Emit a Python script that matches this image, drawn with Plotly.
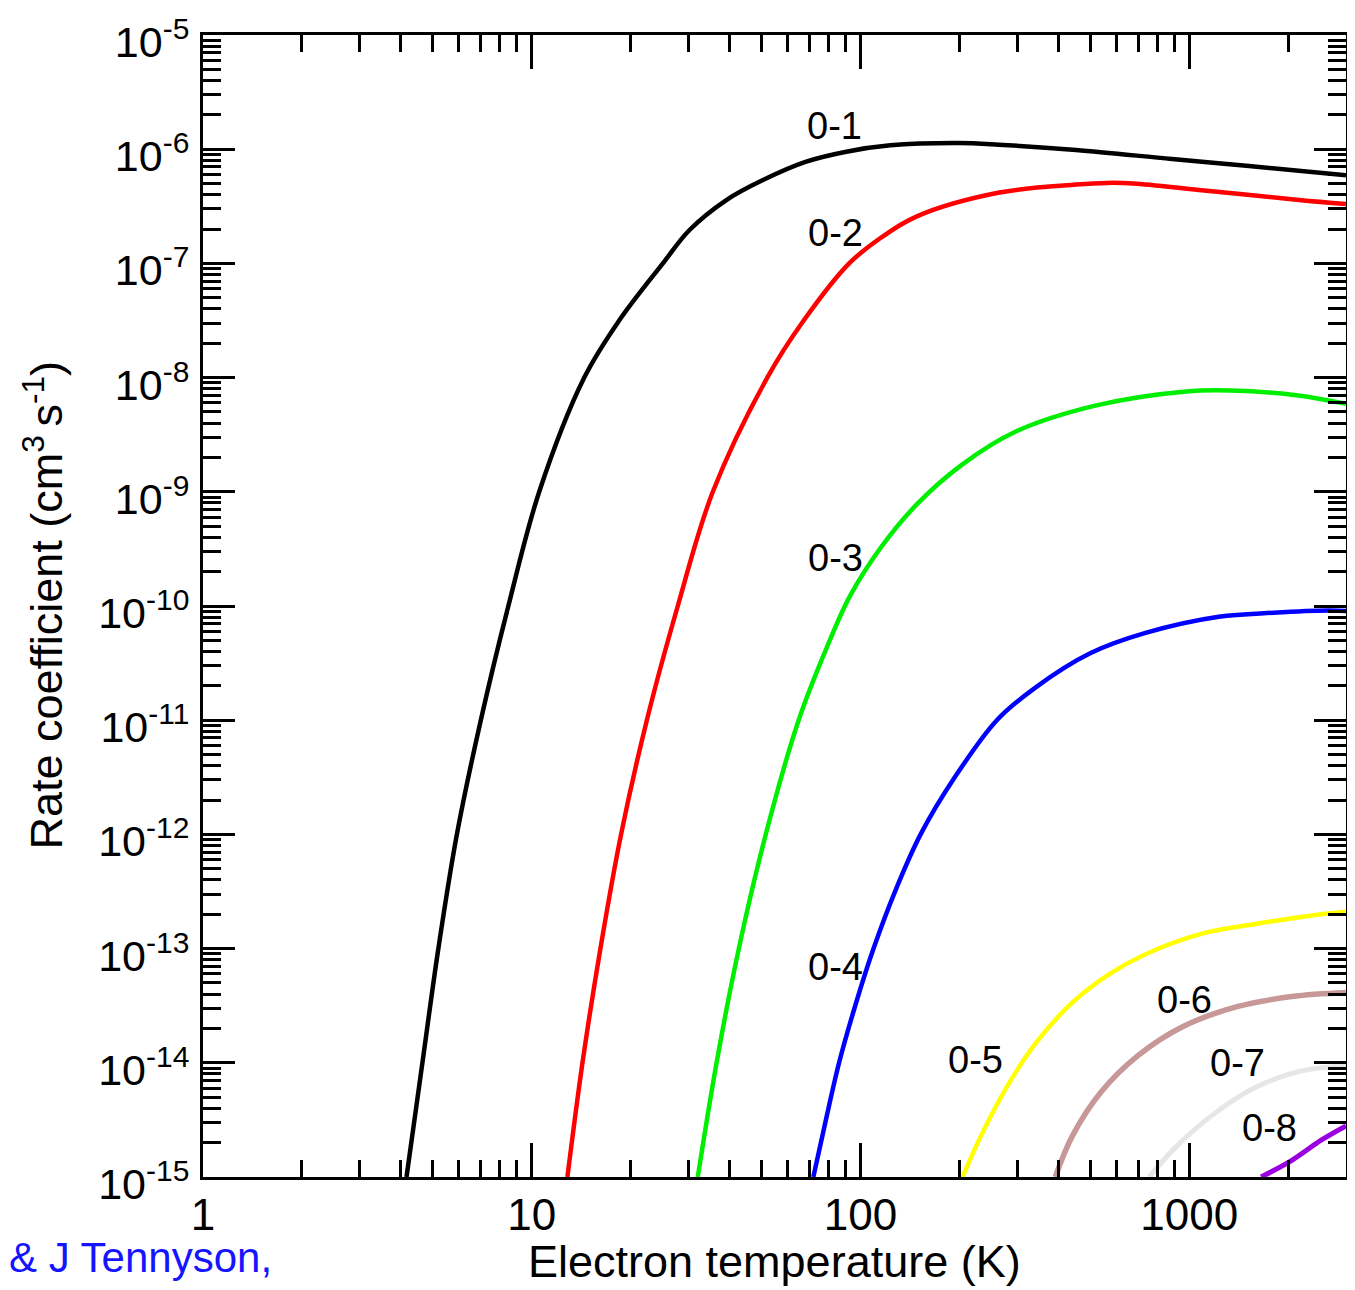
import numpy as np
import plotly.graph_objects as go

# ---------------- data ----------------
T01 = [4.16, 4.65, 5.20, 5.92, 7.00, 8.49, 10.54, 14.45, 18.45, 25.06, 30.2, 39.1, 50.5, 68.4, 90.6, 123.3, 198.6, 263, 453, 887, 1521, 3000]
K01 = [1e-15, 1e-14, 1e-13, 1e-12, 1e-11, 1e-10, 1e-9, 1e-8, 3.16e-8, 1e-7, 1.96e-7, 3.59e-7, 5.37e-7, 7.78e-7, 9.51e-7, 1.081e-6, 1.132e-6, 1.096e-6, 9.84e-7, 8.20e-7, 7.13e-7, 5.92e-7]

T02 = [12.84, 14.27, 16.18, 18.70, 22.40, 27.82, 35.56, 52.07, 67.2, 92.4, 114.8, 147.9, 264.6, 452.9, 562.3, 676.1, 1071.5, 2158, 3000]
K02 = [1e-15, 1e-14, 1e-13, 1e-12, 1e-11, 1e-10, 1e-9, 1e-8, 3.16e-8, 1e-7, 1.66e-7, 2.57e-7, 4.17e-7, 4.90e-7, 5.07e-7, 5.01e-7, 4.40e-7, 3.59e-7, 3.31e-7]

T03 = [32.0, 36.5, 42.66, 51.52, 64.86, 79.5, 92.9, 115.8, 148.9, 203.8, 297, 522, 979, 1340, 2145, 3000]
K03 = [1e-15, 1e-14, 1e-13, 1e-12, 1e-11, 4.52e-11, 1.22e-10, 3.30e-10, 7.83e-10, 1.73e-9, 3.37e-9, 5.71e-9, 7.57e-9, 7.71e-9, 6.98e-9, 5.89e-9]

T04 = [71.9, 78.5, 86.1, 96.4, 109.6, 127.4, 152.4, 193.6, 260.0, 341.4, 501.6, 736.6, 1230, 1806, 2655, 3000]
K04 = [1e-15, 3.16e-15, 1e-14, 3.16e-14, 1e-13, 3.16e-13, 1e-12, 3.16e-12, 1e-11, 1.94e-11, 3.87e-11, 5.81e-11, 8.05e-11, 8.73e-11, 9.12e-11, 9.04e-11]

T05 = [204.5, 232.4, 278, 341.4, 441, 570, 736.5, 1081, 1589, 2333, 3000]
K05 = [1e-15, 2.28e-15, 6.07e-15, 1.49e-14, 3.36e-14, 5.94e-14, 8.93e-14, 1.34e-13, 1.64e-13, 1.94e-13, 2.10e-13]

T06 = [391.5, 441, 541, 699.8, 951.5, 1398, 2053, 3000]
K06 = [1e-15, 2.28e-15, 5.6e-15, 1.16e-14, 2.06e-14, 3.10e-14, 3.80e-14, 4.12e-14]

T07 = [755.8, 904, 1168, 1589, 2161, 3000]
K07 = [1e-15, 1.79e-15, 3.43e-15, 6.07e-15, 8.41e-15, 9.49e-15]

T08 = [1655, 2053, 2521, 3000]
K08 = [1e-15, 1.40e-15, 2.10e-15, 2.80e-15]

series_names = ["0-1", "0-2", "0-3", "0-4", "0-5", "0-6", "0-7", "0-8"]
series_T = [T01, T02, T03, T04, T05, T06, T07, T08]
series_K = [K01, K02, K03, K04, K05, K06, K07, K08]
series_colors = ["#000000", "#ff0000", "#00ee00", "#0000ff", "#ffff00", "#c89898", "#e6e6e6", "#9b00e0"]
series_widths = [4.5, 4.5, 4.5, 4.5, 4.5, 5.5, 5, 5]

# curve label positions (T, k)
label_T = [83.4, 84, 84, 84, 224, 966, 1399, 1751]
label_K = [1.6e-6, 1.85e-7, 2.63e-10, 6.9e-14, 1.06e-14, 3.55e-14, 9.95e-15, 2.69e-15]

x_tickvals = [1, 10, 100, 1000]
x_ticktext = ["1", "10", "100", "1000"]
y_exponents = list(range(-15, -4))
y_tickvals = [10.0 ** e for e in y_exponents]
y_ticktext = ['10<sup><span style="font-size:30px">%d</span></sup>' % e for e in y_exponents]

x_title = "Electron temperature (K)"
y_title = "Rate coefficient (cm<sup>3 </sup>s<sup>-1</sup>)"
credit_text = "& J Tennyson,"

FONT = "Arial, Liberation Sans, sans-serif"

# ---------------- figure ----------------
fig = go.Figure()
for name, T, K, c, w in zip(series_names, series_T, series_K, series_colors, series_widths):
    fig.add_trace(go.Scatter(x=T, y=K, mode="lines", name=name,
                             line=dict(color=c, width=w, shape="spline", smoothing=1.0),
                             hoverinfo="x+y+name"))

for name, lt, lk in zip(series_names, label_T, label_K):
    fig.add_annotation(x=np.log10(lt), y=np.log10(lk), xref="x", yref="y", text=name,
                       showarrow=False, font=dict(family=FONT, size=38, color="black"),
                       xanchor="center", yanchor="middle")

x_minor = [m * 10.0 ** d for d in range(0, 4) for m in range(2, 10) if m * 10.0 ** d < 3000]
y_minor = [m * 10.0 ** e for e in range(-15, -5) for m in range(2, 10)]

axis_common = dict(showline=True, linewidth=3, linecolor="black", mirror="ticks",
                   ticks="inside", tickwidth=2.5, tickcolor="black", showgrid=False,
                   zeroline=False, automargin=False)

fig.update_xaxes(type="log", range=[0, np.log10(3000)], tickmode="array",
                 tickvals=x_tickvals, ticktext=x_ticktext, ticklen=34,
                 ticklabelstandoff=-3,
                 tickfont=dict(family=FONT, size=44, color="black"),
                 minor=dict(tickmode="array", tickvals=x_minor, ticks="inside", ticklen=17,
                            tickwidth=2.5, tickcolor="black", showgrid=False),
                 **axis_common)
fig.update_yaxes(type="log", range=[-15, -5], tickmode="array",
                 tickvals=y_tickvals, ticktext=y_ticktext, ticklen=32,
                 ticklabelshift=7, ticklabelstandoff=2,
                 tickfont=dict(family=FONT, size=43, color="black"),
                 minor=dict(tickmode="array", tickvals=y_minor, ticks="inside", ticklen=18,
                            tickwidth=2.5, tickcolor="black", showgrid=False),
                 **axis_common)

# axis titles and credit as positioned text
fig.add_annotation(x=0.5, y=-0.0744, xref="paper", yref="paper", text=x_title,
                   showarrow=False, font=dict(family=FONT, size=45, color="black"),
                   xanchor="center", yanchor="middle")
fig.add_annotation(x=-0.1395, y=0.5009, xref="paper", yref="paper", text=y_title,
                   textangle=-90, showarrow=False,
                   font=dict(family=FONT, size=45, color="black"),
                   xanchor="center", yanchor="middle")
fig.add_annotation(x=-0.1715, y=-0.0709, xref="paper", yref="paper", text=credit_text,
                   showarrow=False, font=dict(family=FONT, size=42, color="#1414ff"),
                   xanchor="left", yanchor="middle")

# the page body adds an 8 px offset, so the figure is sized to land the plot
# area at the same place as in the reference
fig.update_layout(width=1347, height=1282, template="none",
                  margin=dict(l=195, r=9, t=27, b=113),
                  paper_bgcolor="white", plot_bgcolor="white",
                  showlegend=False, font=dict(family=FONT, color="black"))

fig.write_html("out.html")
